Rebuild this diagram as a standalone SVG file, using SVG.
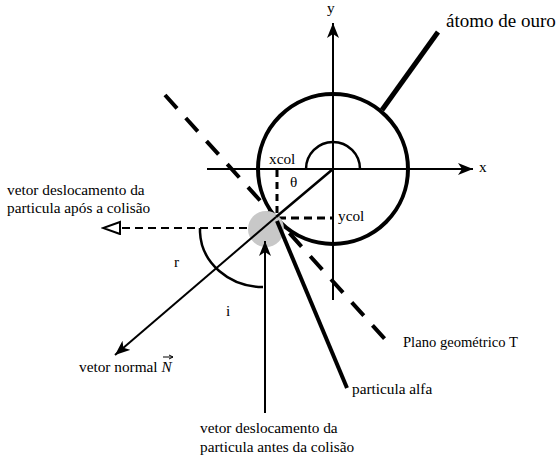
<svg xmlns="http://www.w3.org/2000/svg" width="560" height="460" viewBox="0 0 560 460">
<defs>
<style>
text{font-family:'Liberation Serif','Times New Roman',serif;font-size:15.3px;fill:#000}
.ln{stroke:#000;fill:none}
</style>
<marker id="ah" markerUnits="userSpaceOnUse" markerWidth="16" markerHeight="14" refX="15" refY="6.5" orient="auto" viewBox="0 0 16 14">
<path d="M0,0.5 L15,6.5 L0,12.5 L4,6.5 z" fill="#000"/>
</marker>
<marker id="hollow" markerUnits="userSpaceOnUse" markerWidth="20" markerHeight="16" refX="18" refY="7" orient="auto" viewBox="0 0 20 16">
<path d="M1,1 L18,7 L1,13 z" fill="#fff" stroke="#000" stroke-width="2"/>
</marker>
</defs>
<rect width="560" height="460" fill="#fff"/>
<g id="connectors">
<line id="x-axis" class="ln" x1="207" y1="169" x2="473" y2="169" stroke-width="2" marker-end="url(#ah)"/>
<line id="y-axis" class="ln" x1="333" y1="300" x2="333" y2="23" stroke-width="2" marker-end="url(#ah)"/>
<line class="ln" x1="165" y1="95" x2="392" y2="347" stroke-width="4" stroke-dasharray="18,13"/>
<line class="ln" x1="277" y1="170" x2="277" y2="217" stroke-width="3" stroke-dasharray="7,5"/>
<line class="ln" x1="278" y1="218" x2="333" y2="218" stroke-width="3" stroke-dasharray="8,5"/>
<line class="ln" x1="247" y1="228" x2="103" y2="228" stroke-width="2" stroke-dasharray="8,5" marker-end="url(#hollow)"/>
</g>
<g id="atomo">
<circle class="ln" cx="333" cy="169" r="75" stroke-width="4"/>
<line class="ln" x1="382" y1="110" x2="438" y2="32" stroke-width="5"/>
<text x="446" y="27" style="font-size:19px">átomo de ouro</text>
</g>
<g id="gray-particle">
<circle cx="266" cy="229" r="18" fill="#c8c8c8"/>
</g>
<g id="theta-arc">
<path class="ln" d="M306,169 A27,27 0 0 1 360,169" stroke-width="2.5"/>
<text x="290" y="187">θ</text>
</g>
<g id="normal">
<line class="ln" x1="333" y1="169" x2="276" y2="217" stroke-width="2.5"/>
<line class="ln" x1="276" y1="217" x2="115" y2="355" stroke-width="2" marker-end="url(#ah)"/>
<text x="79" y="372">vetor normal <tspan font-style="italic">N</tspan></text>
<line class="ln" x1="163" y1="357" x2="173" y2="357" stroke-width="1"/>
<path d="M173,357 L169,355 M173,357 L169,359" class="ln" stroke-width="1"/>
</g>
<g id="alfa">
<line class="ln" x1="277" y1="221" x2="347" y2="388" stroke-width="4"/>
<text x="352" y="394">particula alfa</text>
</g>
<g id="incoming">
<line class="ln" x1="265" y1="413" x2="265" y2="241" stroke-width="2" marker-end="url(#ah)"/>
<text x="200" y="433">vetor deslocamento da</text>
<text x="200" y="452">particula antes da colisão</text>
</g>
<g id="angles">
<path class="ln" d="M200,228 L200,232 A63,57 0 0 0 263,287" stroke-width="2.5"/>
<text x="174" y="267">r</text>
<text x="226" y="316">i</text>
</g>
<g id="labels">
<text x="269" y="164">xcol</text>
<text x="338" y="221">ycol</text>
<text x="479" y="172">x</text>
<text x="327" y="13">y</text>
<text x="403" y="347" style="font-size:14.6px">Plano geométrico T</text>
<text x="7" y="195">vetor deslocamento da</text>
<text x="7" y="213">particula após a colisão</text>
</g>
</svg>
